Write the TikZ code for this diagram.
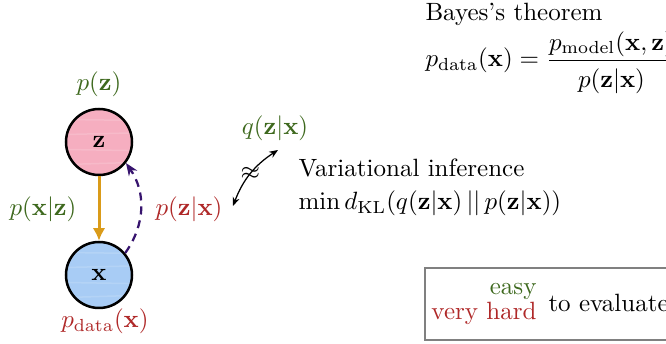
\documentclass[tikz,border=0pt]{standalone}
\usepackage{amsmath}
\usetikzlibrary{arrows.meta,calc}
\definecolor{dgreen}{RGB}{62,105,30}
\definecolor{dred}{RGB}{175,40,40}
\definecolor{pinkf}{RGB}{246,174,192}
\definecolor{bluef}{RGB}{168,204,245}
\definecolor{orangec}{RGB}{218,155,25}
\definecolor{purplec}{RGB}{55,20,110}
\tikzset{
  var/.style={circle,draw=black,line width=1pt,minimum size=26.4pt,inner sep=0pt,
    path picture={
      \foreach \yy/\dd in {-9/0.9,-3/-0.5,3/0.7,9/-0.4}{
        \draw[white,opacity=0.15,line width=0.6pt]
          ($(path picture bounding box.west)+(0,\yy pt)$) -- ++(30pt,\dd pt);
      }
    }},
  lbl/.style={inner sep=0pt,anchor=base},
  txt/.style={inner sep=0pt,anchor=base west},
}
\begin{document}
\begin{tikzpicture}[x=0.4pt,y=-0.4pt]
\useasboundingbox (0,0) rectangle (666,344);
% nodes
\node[var,fill=pinkf] (z) at (99,142) {$\mathbf{z}$};
\node[var,fill=bluef] (x) at (99,275) {$\mathbf{x}$};
\node[lbl,text=dgreen] (pz) at (99,91) {$p(\mathbf{z})$};
\node[lbl,text=dgreen] (pxz) at (43,216) {$p(\mathbf{x}|\mathbf{z})$};
\node[lbl,text=dred] (pdata) at (105,328) {$p_{\mathrm{data}}(\mathbf{x})$};
\node[txt,text=dred] (pzx) at (155,216) {$p(\mathbf{z}|\mathbf{x})$};
\node[lbl,text=dgreen] (qzx) at (275,135) {$q(\mathbf{z}|\mathbf{x})$};
\coordinate (a1) at (233,206);
\coordinate (a2) at (278,150);
% arrows
\draw[orangec,line width=1.2pt,-{Latex[length=5pt,width=5pt]}] (z) -- (x);
\draw[purplec,line width=0.9pt,dash pattern=on 3.2pt off 2.4pt,-{Stealth[length=5pt,width=4pt]}] (x.40) to[bend right=35] (z.-38);
\draw[line width=0.5pt,{Stealth[length=3.5pt,width=2.8pt]}-{Stealth[length=3.5pt,width=2.8pt]}] (a1) to[bend left=18] node[fill=none,inner sep=0pt] {$\approx$} (a2);
% text
\node[txt] (vi) at (298,177) {Variational inference};
\node[txt] (kl) at (298,210) {$\min d_{\mathrm{KL}}(q(\mathbf{z}|\mathbf{x})\,||\,p(\mathbf{z}|\mathbf{x}))$};
\node[txt] (bayes) at (425,21) {Bayes's theorem};
\node[txt] (formula) at (425,67) {$p_{\mathrm{data}}(\mathbf{x}) = \dfrac{p_{\mathrm{model}}(\mathbf{x},\mathbf{z})}{\rule{0pt}{9.5pt}p(\mathbf{z}|\mathbf{x})}$};
% box
\draw[gray,line width=0.6pt] (425,268) rectangle (700,340);
\node[inner sep=0pt,anchor=base east,text=dgreen] (easy) at (537,295) {easy};
\node[inner sep=0pt,anchor=base east,text=dred] (hard) at (537,320) {very hard};
\node[txt] (eval) at (548,312) {to evaluate};
\end{tikzpicture}
\end{document}
